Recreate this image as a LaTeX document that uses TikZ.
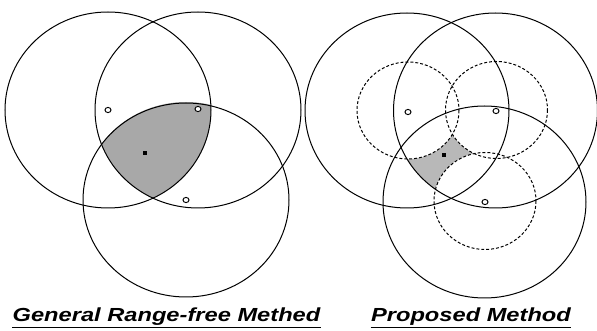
\documentclass[tikz,border=0pt]{standalone}
\usepackage{fontspec}
\setmainfont{Liberation Sans}
\begin{document}
\begin{tikzpicture}[x=0.75pt,y=-0.75pt,
  ring/.style={draw=black,line width=0.75pt},
  dring/.style={draw=black,line width=0.75pt,dash pattern=on 2.2pt off 1.5pt},
  anchorpt/.style={draw=black,fill=white,line width=0.7pt},
  unknown/.style={fill=black},
  area/.style={fill=black!34},
  areaB/.style={fill=black!28},
  caption/.style={inner sep=0pt,anchor=base,xscale=1.25,font=\fontsize{14.2pt}{16pt}\selectfont\bfseries\itshape},
  uline/.style={line width=1.2pt}]
\useasboundingbox (0,0) rectangle (597,331);
% ---------- left panel ----------
\begin{scope}
  \clip (108,110) ellipse [x radius=103, y radius=98];
  \clip (198,110) ellipse [x radius=103, y radius=98];
  \fill[area] (186,200) ellipse [x radius=103, y radius=98];
\end{scope}
\draw[ring] (108,110) ellipse [x radius=103, y radius=98];
\draw[ring] (198,110) ellipse [x radius=103, y radius=98];
\draw[ring] (186,200) ellipse [x radius=103, y radius=97];
\draw[anchorpt] (108,110) ellipse [x radius=3, y radius=2.6];
\draw[anchorpt] (198,109) ellipse [x radius=3, y radius=2.6];
\draw[anchorpt] (186,200) ellipse [x radius=3, y radius=2.6];
\fill[unknown] (143,151) rectangle (147,155);
% ---------- right panel ----------
\begin{scope}
  \clip (407,110.5) ellipse [x radius=102, y radius=97.5];
  \clip (495.5,110.5) ellipse [x radius=102, y radius=97.5];
  \clip (484.5,202) ellipse [x radius=101.5, y radius=96];
  \fill[areaB] (300,0) rectangle (597,331);
  \fill[white] (408,110.5) ellipse [x radius=51, y radius=48.5];
  \fill[white] (496.5,110) ellipse [x radius=51, y radius=48.5];
  \fill[white] (485,201) ellipse [x radius=51, y radius=48.5];
\end{scope}
\draw[dring] (408,110.5) ellipse [x radius=51, y radius=48.5];
\draw[dring] (496.5,110) ellipse [x radius=51, y radius=48.5];
\draw[dring] (485,201) ellipse [x radius=51, y radius=48.5];
\draw[ring] (407,110.5) ellipse [x radius=102, y radius=97.5];
\draw[ring] (495.5,110.5) ellipse [x radius=102, y radius=97.5];
\draw[ring] (484.5,202) ellipse [x radius=101.5, y radius=96];
\draw[anchorpt] (408,112) ellipse [x radius=3, y radius=2.6];
\draw[anchorpt] (496,111) ellipse [x radius=3, y radius=2.6];
\draw[anchorpt] (485,202) ellipse [x radius=3, y radius=2.6];
\fill[unknown] (442,153) rectangle (446,157);
% ---------- captions ----------
\node[caption] (capL) at (166.5,322) {General Range-free Methed};
\node[caption] (capR) at (471,322) {Proposed Method};
\draw[uline] ([yshift=-4.2pt]capL.base west) -- ([yshift=-4.2pt]capL.base east);
\draw[uline] ([yshift=-4.2pt]capR.base west) -- ([yshift=-4.2pt]capR.base east);
\end{tikzpicture}
\end{document}
